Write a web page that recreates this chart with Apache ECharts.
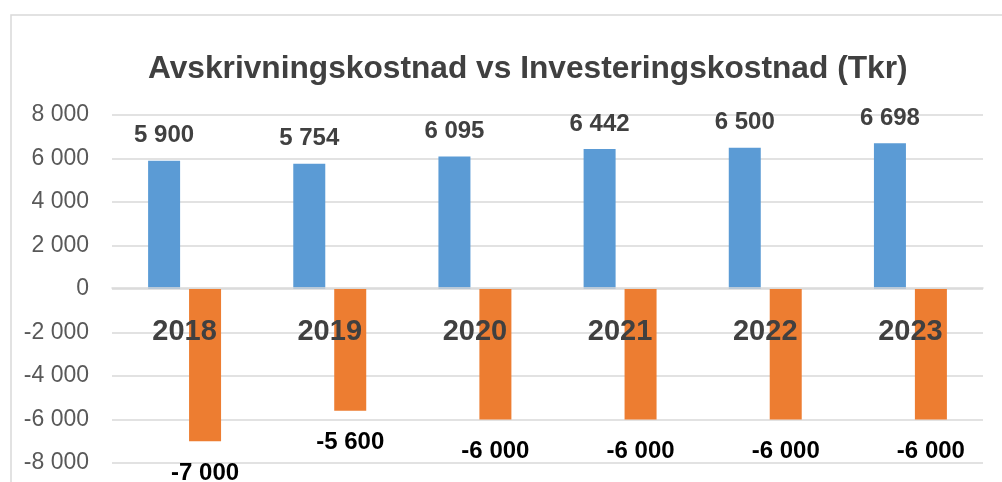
<!DOCTYPE html>
<html>
<head>
<meta charset="utf-8">
<script src="https://cdn.jsdelivr.net/npm/echarts@6/dist/echarts.min.js"></script>
<style>
html,body{margin:0;padding:0;background:#fff;}
#chart{width:1002px;height:482px;}
</style>
</head>
<body>
<div id="chart"></div>
<script>
const titleText = 'Avskrivningskostnad vs Investeringskostnad (Tkr)';
const categories = ['2018', '2019', '2020', '2021', '2022', '2023'];
const avskrivning = [5900, 5754, 6095, 6442, 6500, 6698];
const investering = [-7000, -5600, -6000, -6000, -6000, -6000];
const yMin = -8000, yMax = 8000, yStep = 2000;

function fmt(v) {
  const s = String(Math.abs(v)).replace(/\B(?=(\d{3})+(?!\d))/g, ' ');
  return (v < 0 ? '-' : '') + s;
}

const FONT = "'Liberation Sans', Arial, sans-serif";
const chart = echarts.init(document.getElementById('chart'), null, {renderer: 'canvas'});
chart.setOption({
  animation: false,
  backgroundColor: '#ffffff',
  title: {
    text: titleText,
    left: 148,
    top: 53,
    padding: 0,
    textStyle: {fontFamily: FONT, fontSize: 31.7, fontWeight: 'bold', color: '#404040'}
  },
  graphic: [{
    type: 'rect', z: -10, silent: true,
    shape: {x: 11, y: 15, width: 1200, height: 800},
    style: {fill: null, stroke: '#d9d9d9', lineWidth: 1.5}
  }],
  grid: {left: 112, right: 19, top: 115, bottom: 19, containLabel: false, outerBoundsMode: 'none'},
  xAxis: {
    type: 'category',
    data: categories,
    z: 10,
    offset: -175,
    axisLine: {onZero: false, lineStyle: {color: '#d9d9d9', width: 1.5}},
    axisTick: {show: false},
    axisLabel: {margin: 29, fontFamily: FONT, fontSize: 29, fontWeight: 'bold', color: '#404040'}
  },
  yAxis: {
    type: 'value',
    min: yMin, max: yMax, interval: yStep,
    axisLine: {show: false},
    axisTick: {show: false},
    splitLine: {lineStyle: {color: '#d9d9d9', width: 1.5}},
    axisLabel: {margin: 23, fontFamily: FONT, fontSize: 23, color: '#595959', formatter: fmt}
  },
  series: [{
    name: 'Avskrivningskostnad',
    type: 'bar',
    data: avskrivning,
    barWidth: 32,
    barGap: '28%',
    itemStyle: {color: '#5b9bd5'},
    label: {show: true, position: 'top', distance: 13, fontFamily: FONT, fontSize: 24, fontWeight: 'bold', color: '#404040', formatter: p => fmt(p.value)}
  }, {
    name: 'Investeringskostnad',
    type: 'bar',
    data: investering,
    barWidth: 32,
    itemStyle: {color: '#ed7d31'},
    label: {show: true, position: 'bottom', distance: 20, fontFamily: FONT, fontSize: 24, fontWeight: 'bold', color: '#000000', formatter: p => fmt(p.value)}
  }]
});
</script>
</body>
</html>
